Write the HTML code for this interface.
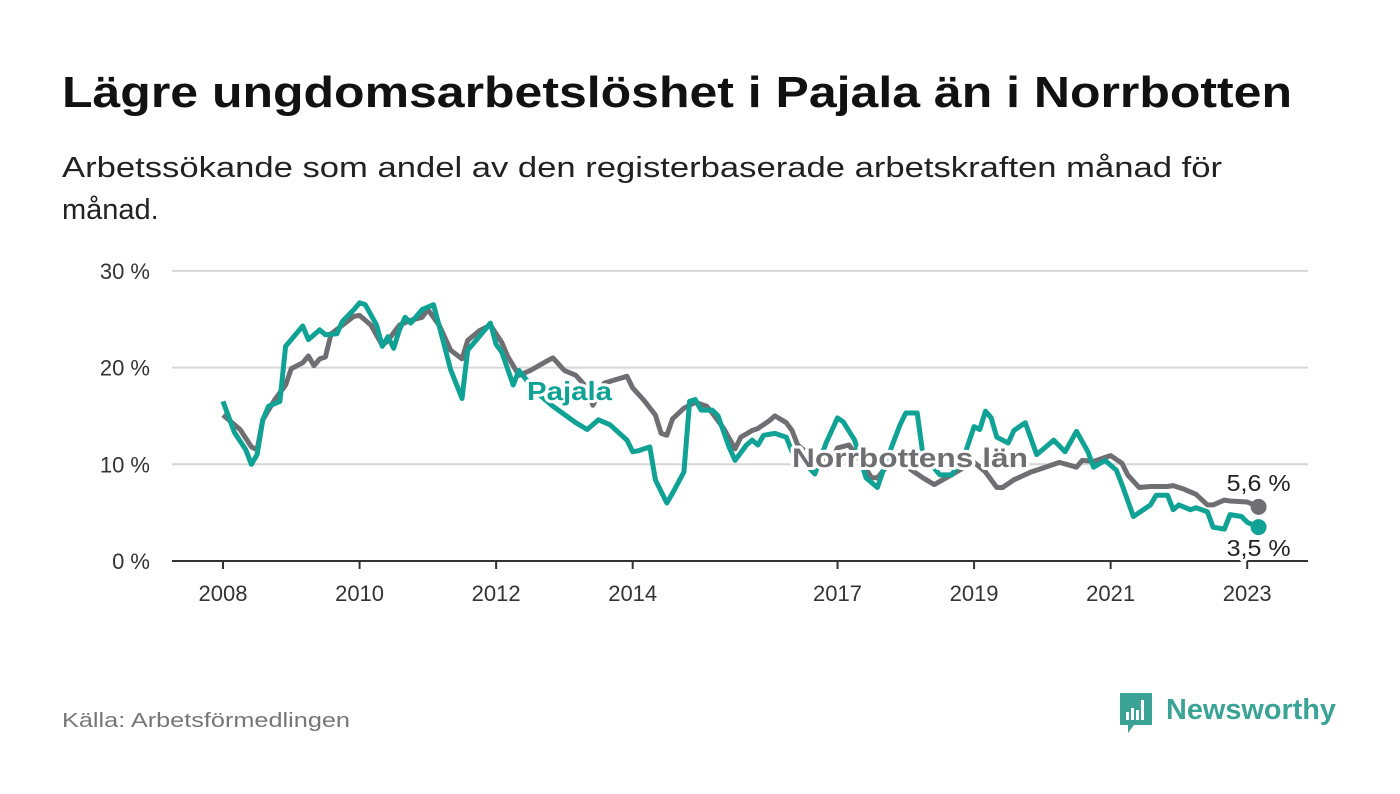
<!DOCTYPE html>
<html><head><meta charset="utf-8">
<style>
html,body{margin:0;padding:0;background:#fff;}
svg{display:block;font-family:"Liberation Sans",sans-serif;}
</style></head>
<body>
<svg id="chart" width="1400" height="794" viewBox="0 0 1400 794">
<text x="62" y="107" font-size="44" font-weight="bold" fill="#111" textLength="1230" lengthAdjust="spacingAndGlyphs">Lägre ungdomsarbetslöshet i Pajala än i Norrbotten</text>
<text x="62" y="177" font-size="29" fill="#222" textLength="1160" lengthAdjust="spacingAndGlyphs">Arbetssökande som andel av den registerbaserade arbetskraften månad för</text>
<text x="62" y="219" font-size="29" fill="#222">månad.</text>
<g id="grid"></g>
<g id="xaxis"></g>
<g id="series"></g>
<g id="labels"></g>
<text x="62" y="727" font-size="20" fill="#777" textLength="288" lengthAdjust="spacingAndGlyphs">Källa: Arbetsförmedlingen</text>
<g>
<path d="M1120 693 h32 v32 h-18 l-6 8 v-8 h-8 z" fill="#3aa396"/>
<rect x="1126" y="712" width="3" height="8" fill="#fff"/>
<rect x="1131" y="708" width="3" height="12" fill="#fff"/>
<rect x="1136" y="710" width="3" height="10" fill="#fff"/>
<rect x="1141" y="700" width="3" height="20" fill="#fff"/>
<text x="1166" y="719" font-size="29" font-weight="bold" fill="#3aa396" textLength="170" lengthAdjust="spacingAndGlyphs">Newsworthy</text>
</g>
</svg>
<script>
const yTicks = [0, 10, 20, 30];
const yTickLabels = ["0 %", "10 %", "20 %", "30 %"];
const xTickMonths = [0, 24, 48, 72, 108, 132, 156, 180];
const xTickLabels = ["2008", "2010", "2012", "2014", "2017", "2019", "2021", "2023"];
const norrMonths = [0,3,5,6,7,9,11,12,14,15,16,17,18,19,21,23,24,26,28,29,31,33,35,36,38,40,42,43,45,47,49,50,52,54,57,58,60,62,64,65,67,71,72,74,76,77,78,79,81,83,85,86,88,90,91,93,94,96,97,99,100,101,103,105,107,108,110,112,114,115,117,119,121,123,125,128,130,132,134,136,137,139,142,144,147,150,151,153,156,158,159,161,163,166,167,169,171,173,174,176,177,180,182];
const norrValues = [15.1,13.6,11.8,11.5,14.6,16.6,18.2,19.9,20.5,21.2,20.2,20.9,21.1,23.5,24.4,25.3,25.4,24.4,22.3,22.8,24.4,24.9,25.2,26.0,24.4,21.8,20.9,22.8,23.8,24.4,22.6,21.2,19.2,19.7,20.7,21.0,19.7,19.2,17.9,16.1,18.4,19.1,17.9,16.6,15.1,13.2,13.0,14.7,15.8,16.4,16.0,15.3,13.7,11.6,12.8,13.5,13.7,14.5,15.0,14.3,13.5,12.0,11.0,10.4,10.4,11.7,12.0,10.4,8.6,8.6,10.0,10.4,9.4,8.6,7.9,8.9,9.6,10.2,9.2,7.6,7.6,8.4,9.2,9.6,10.2,9.7,10.4,10.3,10.9,10.1,8.9,7.6,7.7,7.7,7.8,7.4,6.9,5.8,5.8,6.3,6.2,6.1,5.6];
const pajMonths = [0,2,4,5,6,7,8,10,11,12,14,15,17,18,20,21,23,24,25,27,28,29,30,31,32,33,35,37,38,40,42,43,45,47,48,49,51,52,55,58,62,64,66,68,71,72,73,75,76,78,79,81,82,83,84,86,87,89,90,92,93,94,95,97,99,100,102,104,106,108,109,111,113,115,117,119,120,122,123,126,128,130,132,133,134,135,136,138,139,141,143,145,146,148,150,152,153,155,157,158,160,163,164,166,167,168,170,171,173,174,176,177,179,180,182];
const pajValues = [16.5,13.3,11.5,10.0,11.0,14.6,16.0,16.5,22.2,22.9,24.3,22.9,23.9,23.4,23.5,24.8,26.0,26.7,26.5,24.4,22.2,23.2,22.0,23.9,25.2,24.6,26.0,26.5,24.3,19.8,16.8,21.8,23.2,24.6,22.4,21.6,18.2,19.7,17.5,16.0,14.3,13.6,14.6,14.1,12.5,11.3,11.4,11.8,8.4,6.0,7.0,9.2,16.5,16.7,15.6,15.6,15.0,11.7,10.4,12.0,12.5,12.0,13.0,13.2,12.8,11.3,10.3,9.0,12.2,14.8,14.4,12.5,8.6,7.6,11.0,14.1,15.3,15.3,11.0,8.9,8.9,10.4,13.9,13.6,15.5,14.8,12.8,12.2,13.5,14.3,11.0,12.0,12.5,11.3,13.4,11.3,9.7,10.4,9.4,7.9,4.6,5.8,6.8,6.8,5.3,5.8,5.3,5.5,5.1,3.5,3.3,4.8,4.6,4.0,3.5];

const NS = "http://www.w3.org/2000/svg";
const X0 = 223, PXM = 5.69, Y0 = 561, PXV = 9.67;
function xs(m){ return X0 + m * PXM; }
function ys(v){ return Y0 - v * PXV; }
function mk(tag, attrs, parent){ const e = document.createElementNS(NS, tag); for (const k in attrs) e.setAttribute(k, attrs[k]); parent.appendChild(e); return e; }

const grid = document.getElementById("grid");
yTicks.forEach((t, i) => {
  if (t > 0) {
    const gl = mk("line", {x1:172, x2:1308, y1:ys(t), y2:ys(t), stroke:"#d6d6d6", "stroke-width":2}, grid);
    
    
  }
  const tl = mk("text", {x:150, y:ys(t)+8, "font-size":22, fill:"#333", "text-anchor":"end"}, grid);
  tl.textContent = yTickLabels[i];
  
  
});
const xa = document.getElementById("xaxis");
const axl = mk("line", {x1:172, x2:1308, y1:Y0, y2:Y0, stroke:"#333", "stroke-width":2}, xa);


xTickMonths.forEach((m, i) => {
  const tk = mk("line", {x1:xs(m), x2:xs(m), y1:Y0, y2:Y0+8, stroke:"#333", "stroke-width":2}, xa);
  
  
  const tl = mk("text", {x:xs(m), y:Y0+40, "font-size":22, fill:"#333", "text-anchor":"middle"}, xa);
  tl.textContent = xTickLabels[i];
  
  
});
const ser = document.getElementById("series");
function pts(ms, vs){ return ms.map((m, i) => xs(m).toFixed(1) + "," + ys(vs[i]).toFixed(1)).join(" "); }
const ln = mk("polyline", {points:pts(norrMonths, norrValues), fill:"none", stroke:"#6f6e72", "stroke-width":5, "stroke-linejoin":"round"}, ser);


const lp = mk("polyline", {points:pts(pajMonths, pajValues), fill:"none", stroke:"#0fa295", "stroke-width":5, "stroke-linejoin":"round"}, ser);


const nl = norrMonths.length - 1, pl = pajMonths.length - 1;
const dn = mk("circle", {cx:xs(norrMonths[nl]), cy:ys(norrValues[nl]), r:8, fill:"#6f6e72"}, ser);


const dp = mk("circle", {cx:xs(pajMonths[pl]), cy:ys(pajValues[pl]), r:8, fill:"#0fa295"}, ser);


const lab = document.getElementById("labels");
function label(txt, x, y, color, size, weight, anchor, name, len){
  const ex = len ? {textLength:len, lengthAdjust:"spacingAndGlyphs"} : {};
  const h = mk("text", Object.assign({x:x, y:y, "font-size":size, "font-weight":weight, fill:"#fff", stroke:"#fff", "stroke-width":6, "stroke-linejoin":"round", "text-anchor":anchor}, ex), lab);
  h.textContent = txt;
  const t = mk("text", Object.assign({x:x, y:y, "font-size":size, "font-weight":weight, fill:color, "text-anchor":anchor}, ex), lab);
  t.textContent = txt;
  
  
}
label("Pajala", 527, 400, "#0fa295", 26, "bold", "start", "pajala-label", 85);
label("Norrbottens län", 910, 467, "#6f6e72", 27, "bold", "middle", "norrbotten-label", 236);
label("5,6 %", xs(norrMonths[nl]), 491, "#222", 23, "normal", "middle", "norrbotten-end-value", 64);
label("3,5 %", xs(pajMonths[pl]), 556, "#222", 23, "normal", "middle", "pajala-end-value", 64);
</script>
</body></html>
